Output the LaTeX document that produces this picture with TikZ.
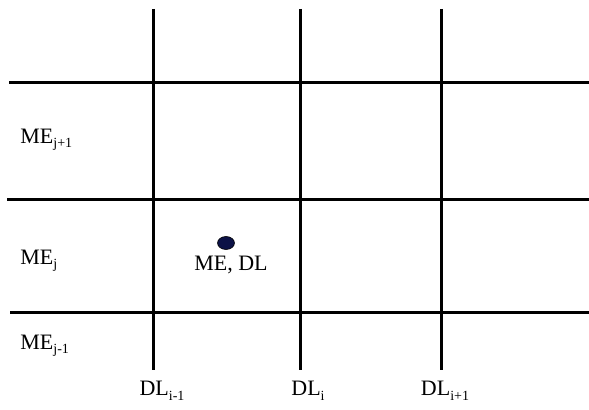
\documentclass[tikz,border=0pt]{standalone}
\usepackage{fontspec}
\setmainfont{Liberation Serif}
\usetikzlibrary{positioning, shapes.geometric}

\newcommand{\lowsub}[1]{\raisebox{-0.45ex}{\fontsize{7}{8}\selectfont #1}}

\begin{document}
\begin{tikzpicture}[
    x=0.5pt, y=-0.5pt,
    font=\fontsize{11}{13}\selectfont,
    gridline/.style={draw=black, line width=1.5pt},
    rowlabel/.style={anchor=west, inner sep=0pt},
    collabel/.style={anchor=center, inner sep=0pt},
    celldot/.style={ellipse, fill=dotblue, draw=black, line width=0.3pt,
        minimum width=8.5pt, minimum height=6.5pt, inner sep=0pt}
]
\definecolor{dotblue}{RGB}{12,18,70}
\useasboundingbox (0,0) rectangle (589,410);

% Grid lines: rows (ME) and columns (DL)
\coordinate (row1_w) at (9,83);   \coordinate (row1_e) at (589,83);
\coordinate (row2_w) at (7,200);  \coordinate (row2_e) at (589,200);
\coordinate (row3_w) at (10,313); \coordinate (row3_e) at (589,313);
\coordinate (col1_n) at (153,9);  \coordinate (col1_s) at (153,370);
\coordinate (col2_n) at (300,9);  \coordinate (col2_s) at (300,370);
\coordinate (col3_n) at (441,9);  \coordinate (col3_s) at (441,370);

\draw[gridline] (row1_w) -- (row1_e);
\draw[gridline] (row2_w) -- (row2_e);
\draw[gridline] (row3_w) -- (row3_e);
\draw[gridline] (col1_n) -- (col1_s);
\draw[gridline] (col2_n) -- (col2_s);
\draw[gridline] (col3_n) -- (col3_s);

% Row labels
\node[rowlabel] (me_up)  at (20,140) {ME\lowsub{j+1}};
\node[rowlabel] (me_mid) at (20,261) {ME\lowsub{j}};
\node[rowlabel] (me_low) at (20,346) {ME\lowsub{j-1}};

% Column labels
\node[collabel] (dl_left)  at (162,391) {DL\lowsub{i-1}};
\node[collabel] (dl_mid)   at (308,391) {DL\lowsub{i}};
\node[collabel] (dl_right) at (445,391) {DL\lowsub{i+1}};

% Point in the cell
\node[celldot] (pt) at (226,243) {};
\node[collabel] (pt_lbl) at (231,265) {ME, DL};

\end{tikzpicture}
\end{document}
